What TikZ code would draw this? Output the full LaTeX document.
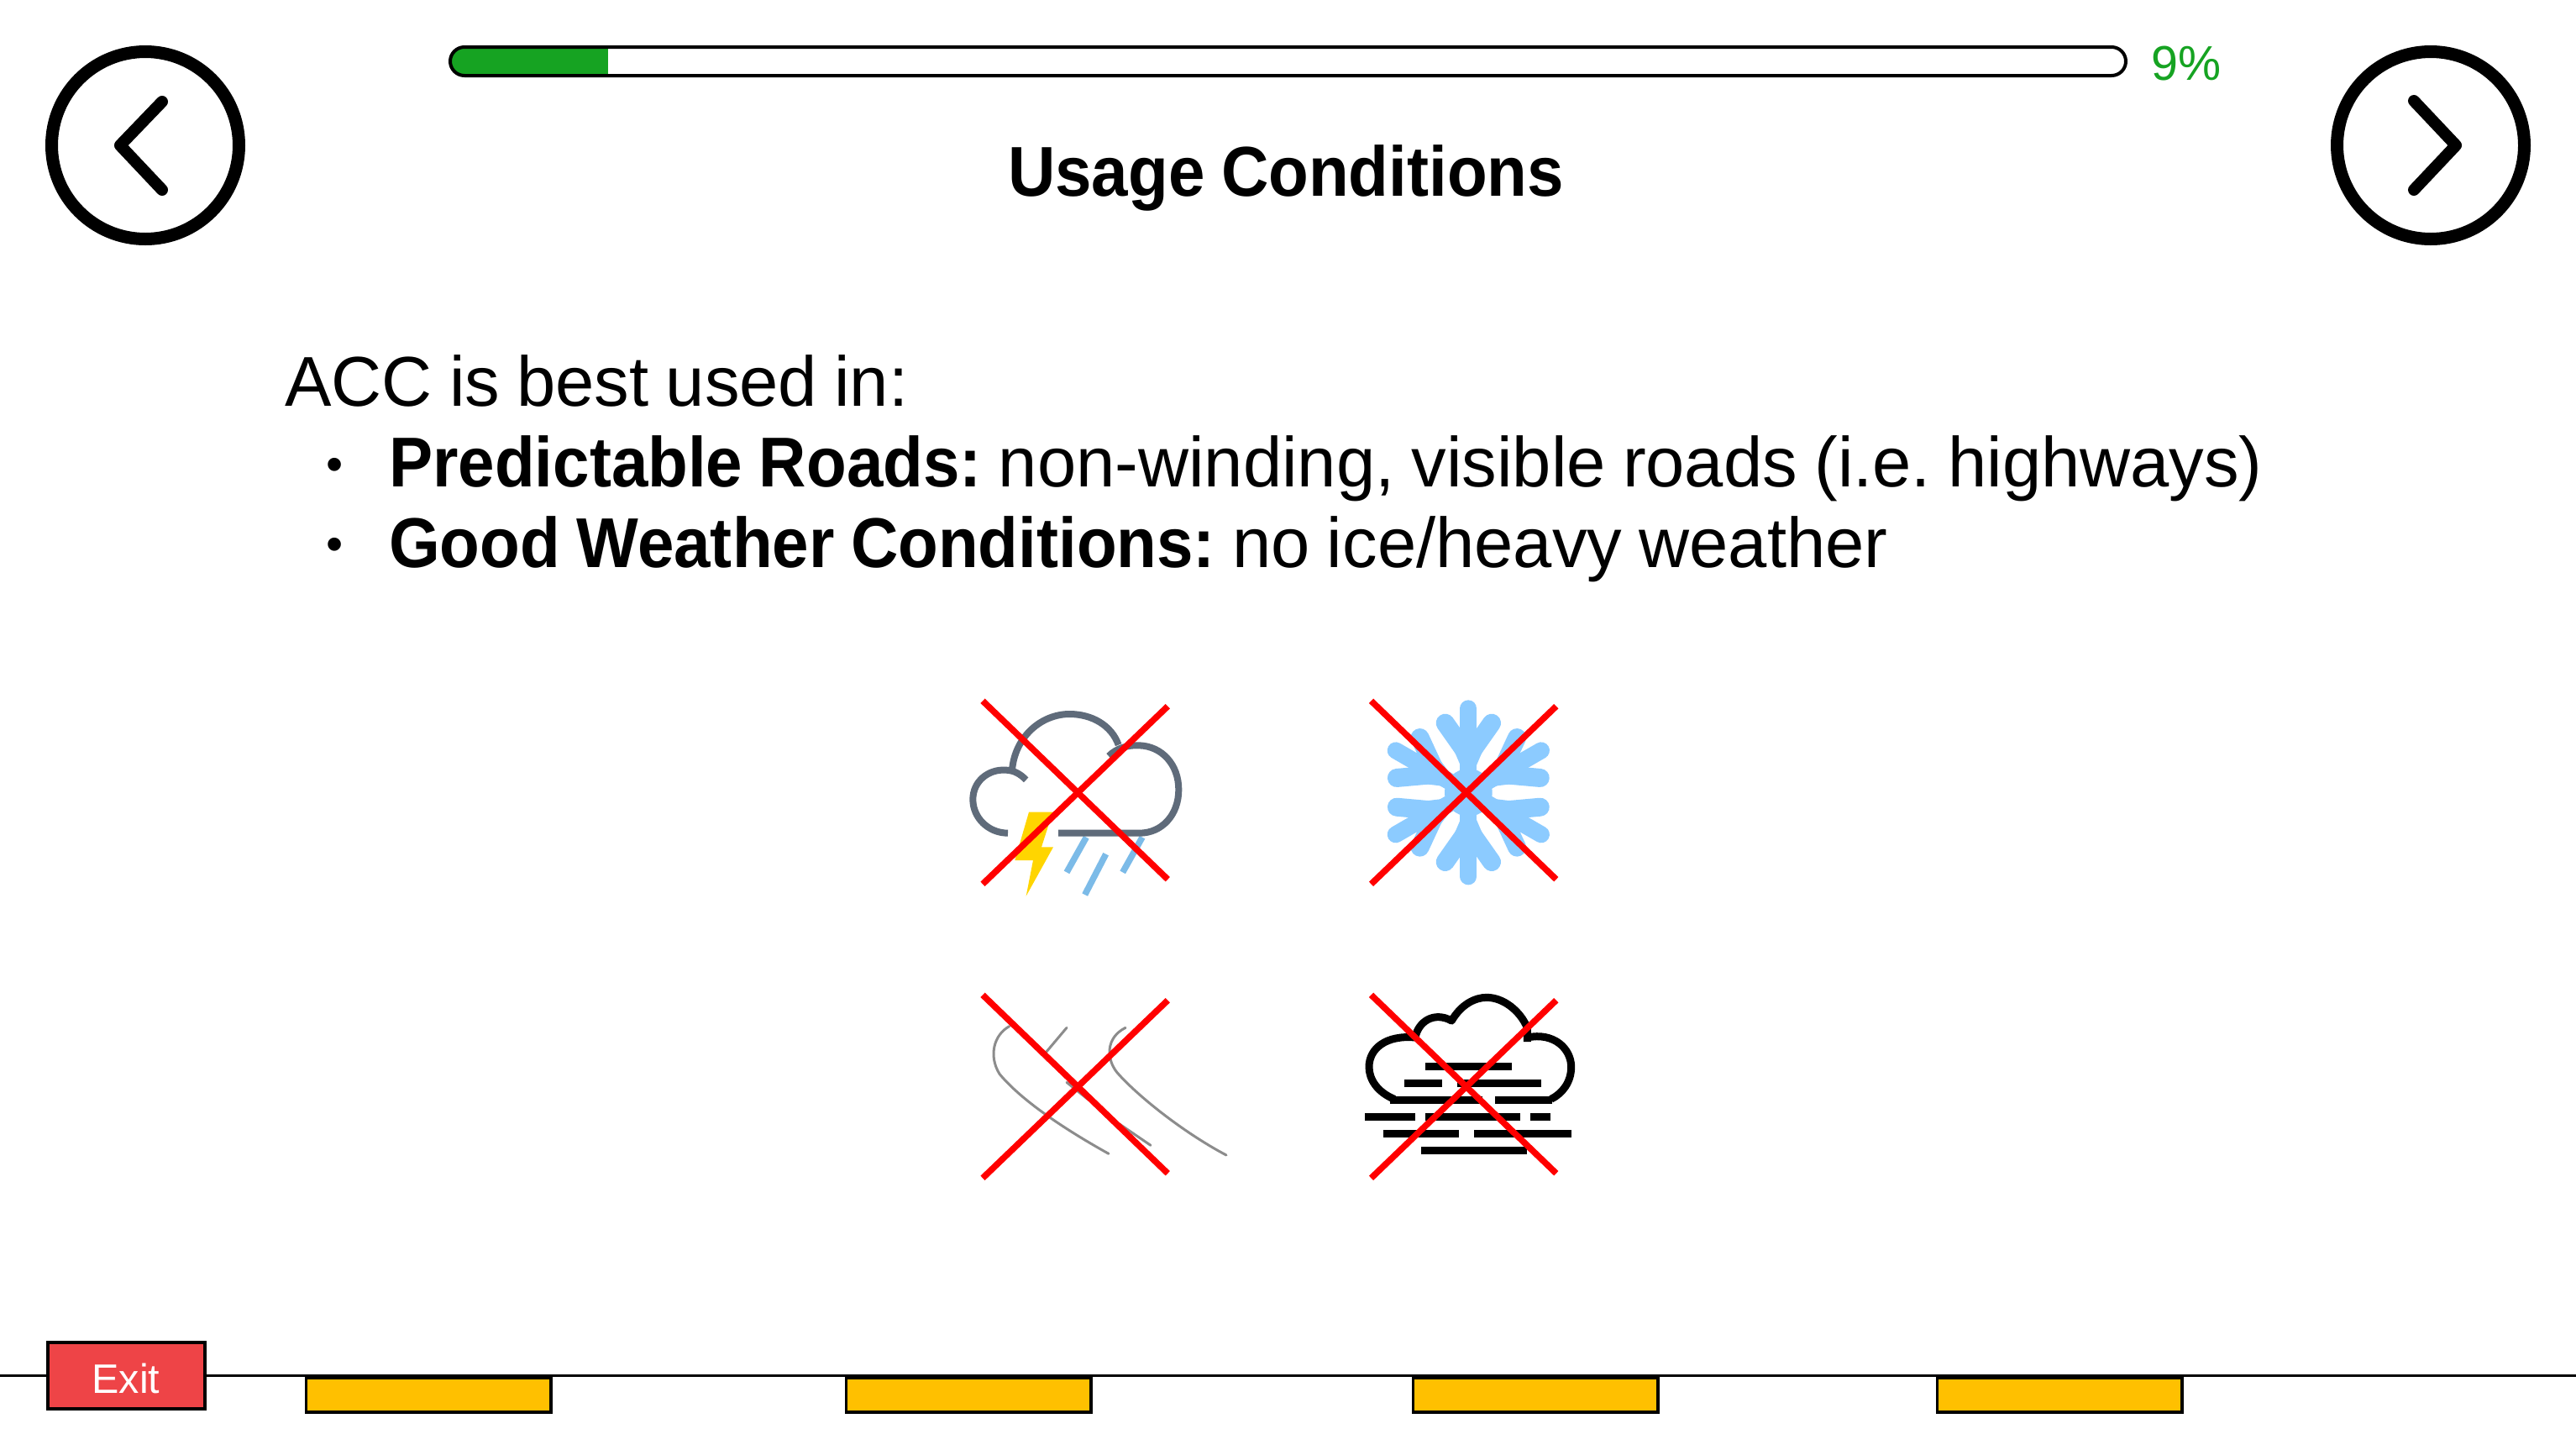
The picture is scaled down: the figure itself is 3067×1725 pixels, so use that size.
\documentclass[tikz,border=0pt]{standalone}
\usepackage{fontspec}
\setmainfont[FakeStretch=0.99,WordSpace=0.88,BoldFeatures={FakeStretch=0.93,WordSpace=0.9}]{Liberation Sans}
\frenchspacing
\definecolor{barg}{RGB}{22,163,34}
\definecolor{exitred}{RGB}{238,68,71}
\definecolor{amber}{RGB}{255,192,0}
\definecolor{stormgray}{RGB}{95,107,122}
\definecolor{boltyel}{RGB}{255,213,0}
\definecolor{rainblue}{RGB}{124,187,232}
\definecolor{snowblue}{RGB}{140,203,255}
\definecolor{crossred}{RGB}{255,0,0}
\tikzset{
 x=1pt,y=-1pt,
 navring/.style={circle,draw=black,line width=15pt,minimum size=223pt,inner sep=0pt,fill=white},
 chev/.style={draw=black,line width=14pt,line cap=round,line join=round},
 crossline/.style={draw=crossred,line width=7.5pt},
 amberbar/.style={draw=black,line width=3.5pt,fill=amber,minimum width=291.5pt,minimum height=41pt,inner sep=0pt,anchor=north west},
 bodytext/.style={font=\fontsize{84}{84}\selectfont,anchor=base west,inner sep=0pt},
 bulletmark/.style={font=\fontsize{58}{58}\selectfont,anchor=center,inner sep=0pt},
 fogbar/.style={draw=black,line width=9pt},
 rain/.style={draw=rainblue,line width=7.5pt},
 windline/.style={draw=black!45,line width=3pt,line cap=round},
}
\newcommand{\crossmark}[2]{%
 \coordinate (xa) at (#1,#2);
 \coordinate (xb) at (#1+220.3,#2+212.4);
 \coordinate (xc) at (#1,#2+218);
 \coordinate (xd) at (#1+220.3,#2+6.4);
 \draw[crossline] (xa) -- (xb);
 \draw[crossline] (xc) -- (xd);
}
\begin{document}
\begin{tikzpicture}
\useasboundingbox (0,0) rectangle (3067,1725);
\fill[white] (0,0) rectangle (3067,1725);
% nav
\node[navring] (back) at (173,173) {};
\node[navring] (next) at (2894,173) {};
\draw[chev] (193,121) -- (143,173) -- (193,226);
\draw[chev] (2874,120) -- (2924,173) -- (2874,226);
% progress
\fill[barg,rounded corners=17pt] (536,56) rectangle (740,90);
\fill[white] (723.5,50) rectangle (760,96);
\draw[black,line width=4pt,rounded corners=17pt] (536,56) rectangle (2531,90);
\node[font=\fontsize{58}{58}\selectfont,text=barg,anchor=base west,inner sep=0pt] (pct) at (2561,95) {9\%};
% title
\node[font=\fontsize{84}{84}\selectfont\bfseries,anchor=base,inner sep=0pt] (title) at (1531,233) {Usage Conditions};
% body
\node[bodytext] (l1) at (339,483) {ACC is best used in:};
\node[bulletmark] (b1) at (399,559) {•};
\node[bodytext] (l2) at (463,579) {\textbf{Predictable Roads:} non-winding, visible roads (i.e. highways)};
\node[bulletmark] (b2) at (399,654) {•};
\node[bodytext] (l3) at (463,675) {\textbf{Good Weather Conditions:} no ice/heavy weather};
% storm icon
\begin{scope}[shift={(1120,800)},scale=1/3]
 \fill[boltyel] (315,500) -- (400,500) -- (360,625) -- (402,625) -- (305,800) -- (330,672) -- (265,672) -- cycle;
 \draw[rain] (520,590) -- (450,715);
 \draw[rain] (590,650) -- (515,795);
 \draw[rain] (720,590) -- (650,715);
 \draw[stormgray,line width=8pt,line join=round]
   (240,575) .. controls (170,575) and (115,520) .. (115,455)
   .. controls (115,390) and (170,345) .. (235,350)
   .. controls (265,352) and (285,365) .. (305,385);
 \draw[stormgray,line width=8pt,line join=round]
   (255,350) .. controls (265,230) and (360,150) .. (460,150)
   .. controls (540,150) and (610,190) .. (635,260);
 \draw[stormgray,line width=8pt,line join=round]
   (600,300) .. controls (630,270) and (670,260) .. (710,262)
   .. controls (790,265) and (850,330) .. (850,420)
   .. controls (850,510) and (790,575) .. (710,575) -- (420,575);
\end{scope}
% snow icon
\begin{scope}[shift={(1600,800)},scale=1/3]
 \fill[snowblue] (445,430) circle[radius=85];
 \foreach \a in {0,60,120,180,240,300}{
  \begin{scope}[rotate around={\a:(445,430)}]
   \draw[snowblue,line width=20pt,line cap=round] (445,130) -- (445,430);
   \draw[snowblue,line width=22pt,line cap=round,line join=round] (362,182) -- (445,300) -- (528,182);
   \fill[snowblue] (445,220) -- (385,260) -- (445,400) -- (505,260) -- cycle;
  \end{scope}
 }
\end{scope}
% wind icon
\begin{scope}[shift={(1120,1160)},scale=1/3]
 \draw[windline] (245,185) .. controls (190,215) and (170,290) .. (210,355)
   .. controls (280,440) and (420,540) .. (600,640);
 \draw[windline] (450,190) -- (370,285);
 \draw[windline] (450,385) -- (525,445);
 \draw[windline] (640,535) -- (750,610);
 \draw[windline] (660,190) .. controls (590,225) and (590,300) .. (630,350)
   .. controls (700,430) and (860,560) .. (1020,645);
\end{scope}
% fog icon
\begin{scope}[shift={(1600,1160)},scale=1/3]
 \draw[black,line width=9pt,line join=round]
   (180,445) .. controls (120,420) and (90,375) .. (90,330)
   .. controls (90,265) and (150,215) .. (255,225)
   .. controls (265,170) and (320,130) .. (385,165)
   .. controls (420,105) and (470,82) .. (510,82)
   .. controls (570,82) and (630,130) .. (655,190) -- (655,240);
 \draw[black,line width=9pt,line join=round]
   (655,225) .. controls (750,205) and (812,265) .. (812,330)
   .. controls (812,385) and (780,425) .. (740,445);
 \draw[fogbar] (165,447) -- (495,447);
 \draw[fogbar] (540,447) -- (745,447);
 \draw[fogbar] (290,327) -- (600,327);
 \draw[fogbar] (215,388) -- (350,388);
 \draw[fogbar] (405,388) -- (705,388);
 \draw[fogbar] (75,507) -- (255,507);
 \draw[fogbar] (290,507) -- (630,507);
 \draw[fogbar] (665,507) -- (738,507);
 \draw[fogbar] (140,568) -- (410,568);
 \draw[fogbar] (465,568) -- (812,568);
 \draw[fogbar] (275,628) -- (655,628);
\end{scope}
% crosses
\crossmark{1170}{834.3}
\crossmark{1632.5}{834.3}
\crossmark{1170}{1184.3}
\crossmark{1632.5}{1184.3}
% bottom
\coordinate (lineL) at (0,1637.5);
\coordinate (lineR) at (3067,1637.5);
\draw[black,line width=3.5pt] (lineL) -- (lineR);
\node[draw=black,line width=4pt,fill=exitred,minimum width=187pt,minimum height=79pt,inner sep=0pt] (exit) at (150,1637.5) {};
\node[text=white,font=\fontsize{49}{49}\selectfont,anchor=base,inner sep=0pt] (exitlabel) at (150,1658) {Exit};
\node[amberbar] (bar1) at (362.5,1638.2) {};
\node[amberbar] (bar2) at (1005.7,1638.2) {};
\node[amberbar] (bar3) at (1680.5,1638.2) {};
\node[amberbar] (bar4) at (2304.5,1638.2) {};
\end{tikzpicture}
\end{document}
